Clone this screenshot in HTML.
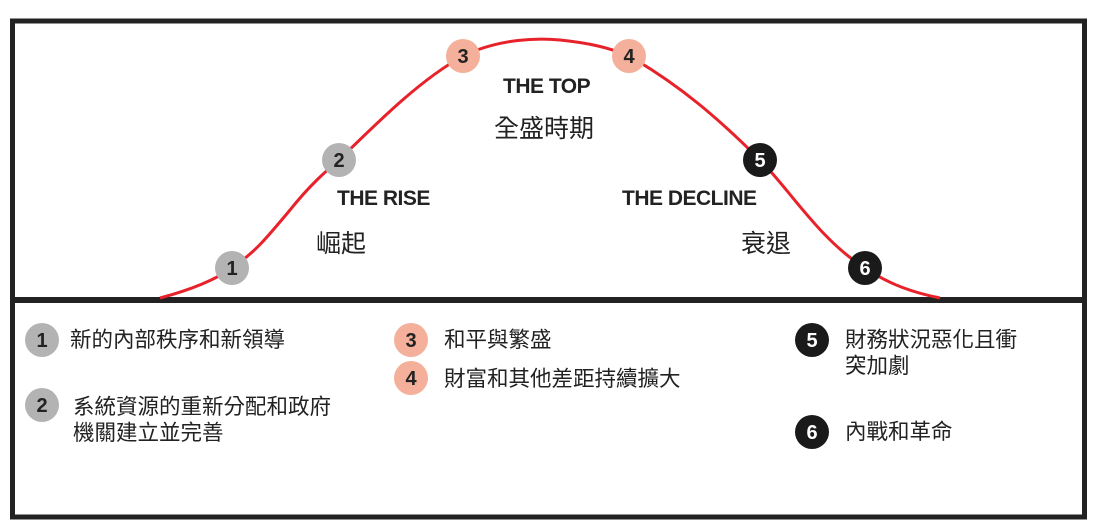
<!DOCTYPE html>
<html><head><meta charset="utf-8"><style>
body{margin:0;width:1096px;height:528px;background:#fff;overflow:hidden;position:relative;font-family:"Liberation Sans","Noto Sans CJK TC",sans-serif}
.t{position:absolute;font-size:21.5px;color:#222;line-height:26px;white-space:nowrap}
.b{position:absolute;font-size:25px;color:#222;line-height:30px;white-space:nowrap}
.h{position:absolute;font-size:21px;font-weight:bold;color:#222;white-space:nowrap;letter-spacing:-0.5px}
</style></head><body>
<svg width="1096" height="528" style="position:absolute;left:0;top:0">
<rect x="12.5" y="21" width="1072" height="496" fill="none" stroke="#222" stroke-width="5"/>
<line x1="10" y1="300" x2="1087" y2="300" stroke="#222" stroke-width="6"/>
<path d="M160,298 C190,290 215,280 232,268 C255,252 265,240 290,210 C310,185 325,172 339,160 C380,120 420,80 463,56 C500,38 540,38 560,40 C590,43 610,48 629,56 C680,85 720,120 760,160 C790,190 820,240 865,268 C890,285 915,293 940,298" fill="none" stroke="#e8222a" stroke-width="3"/>
<g font-family="Liberation Sans,sans-serif" font-weight="bold" font-size="20" text-anchor="middle">
<circle cx="232" cy="268" r="17" fill="#b3b3b3"/><text x="232" y="275" fill="#222">1</text>
<circle cx="339" cy="160" r="17" fill="#b3b3b3"/><text x="339" y="167" fill="#222">2</text>
<circle cx="463" cy="56" r="17" fill="#f4b09a"/><text x="463" y="63" fill="#222">3</text>
<circle cx="629" cy="56" r="17" fill="#f4b09a"/><text x="629" y="63" fill="#222">4</text>
<circle cx="760" cy="160" r="17" fill="#1a1a1a"/><text x="760" y="167" fill="#fff">5</text>
<circle cx="865" cy="268" r="17" fill="#1a1a1a"/><text x="865" y="275" fill="#fff">6</text>
<circle cx="42" cy="340" r="17" fill="#b3b3b3"/><text x="42" y="347" fill="#222">1</text>
<circle cx="42" cy="405" r="17" fill="#b3b3b3"/><text x="42" y="412" fill="#222">2</text>
<circle cx="411" cy="340" r="17" fill="#f4b09a"/><text x="411" y="347" fill="#222">3</text>
<circle cx="411" cy="378" r="17" fill="#f4b09a"/><text x="411" y="385" fill="#222">4</text>
<circle cx="812" cy="340" r="17" fill="#1a1a1a"/><text x="812" y="347" fill="#fff">5</text>
<circle cx="812" cy="432" r="17" fill="#1a1a1a"/><text x="812" y="439" fill="#fff">6</text>
</g>
</svg>
<div class="h" style="left:503px;top:75px">THE TOP</div>
<div class="b" style="left:494px;top:114px">全盛時期</div>
<div class="h" style="left:337px;top:187px">THE RISE</div>
<div class="b" style="left:316px;top:229px">崛起</div>
<div class="h" style="left:622px;top:187px">THE DECLINE</div>
<div class="b" style="left:741px;top:229px">衰退</div>
<div class="t" style="left:70px;top:327px">新的內部秩序和新領導</div>
<div class="t" style="left:73px;top:394px">系統資源的重新分配和政府<br>機關建立並完善</div>
<div class="t" style="left:444px;top:327px">和平與繁盛</div>
<div class="t" style="left:444px;top:366px">財富和其他差距持續擴大</div>
<div class="t" style="left:845px;top:327px">財務狀況惡化且衝<br>突加劇</div>
<div class="t" style="left:845px;top:419px">內戰和革命</div>
</body></html>
